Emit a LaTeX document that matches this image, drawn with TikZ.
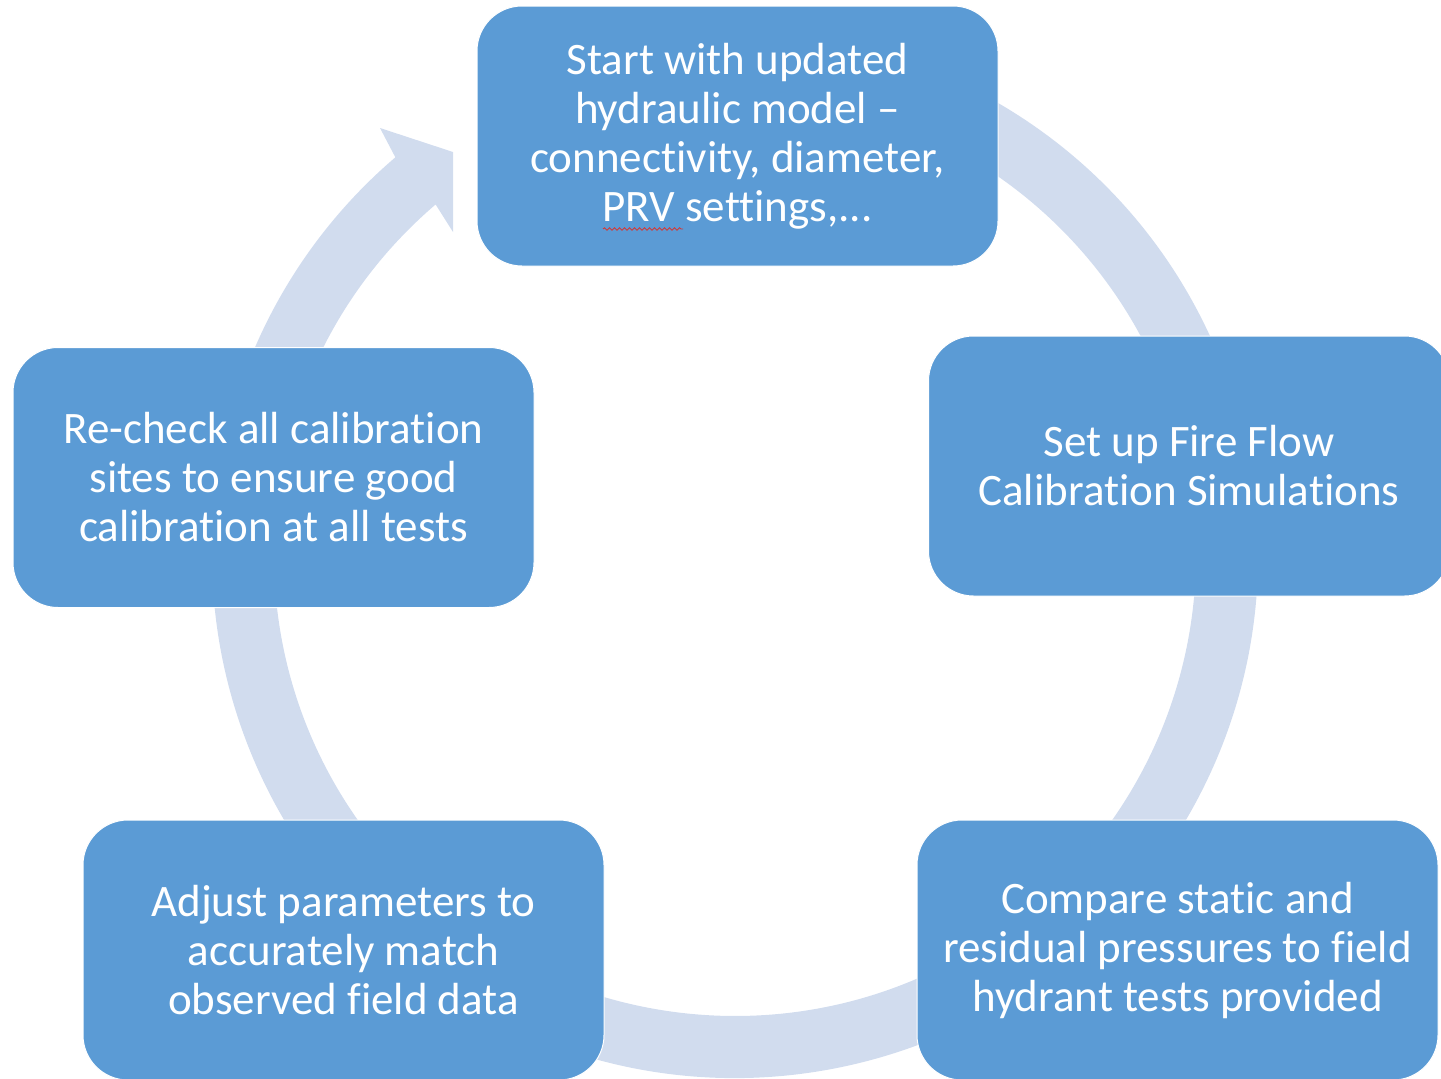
\documentclass[tikz,border=0pt]{standalone}
\usepackage{fontspec}
\setmainfont{Carlito}[Ligatures=NoCommon]
\usetikzlibrary{decorations.pathmorphing}
\definecolor{boxblue}{HTML}{5B9BD5}
\definecolor{ringblue}{HTML}{D1DCEE}
\definecolor{spellred}{HTML}{D03A3A}
\begin{document}
\begin{tikzpicture}[x=1pt,y=-1pt,
  stepbox/.style={rounded corners=45pt, fill=boxblue, draw=white, line width=1pt,
    minimum width=521pt, minimum height=260pt, text=white, align=center,
    font=\fontsize{45}{49}\selectfont, inner sep=0pt}]
\useasboundingbox (0,0) rectangle (1441,1079);
\clip (0,0) rectangle (1441,1079);
% ring arrow
\begin{scope}[shift={(735,555)}, y=1pt]
\fill[ringblue] (130.5:523) -- (-355,427) -- (-282,403) -- (-282,323) -- (130.5:461)
  arc[start angle=130.5, end angle=420, radius=461] -- (420:523)
  arc[start angle=420, end angle=130.5, radius=523] -- cycle;
\end{scope}
% boxes
\node[stepbox] (top) at (737.5,136) {Start with updated\\hydraulic model –\\connectivity, diameter,\\PRV settings,...};
\node[stepbox] (right) at (1189,466) {Set up Fire Flow\\Calibration Simulations};
\node[stepbox] (br) at (1177.5,950) {Compare static and\\residual pressures to field\\hydrant tests provided};
\node[stepbox] (bl) at (343.5,950) {Adjust parameters to\\accurately match\\observed field data};
\node[stepbox] (left) at (273.5,477.5) {Re-check all calibration\\sites to ensure good\\calibration at all tests};
% spell-check underline
\draw[spellred, line width=0.9pt, decorate, decoration={snake, amplitude=1.2pt, segment length=5pt}] (603,229) -- (683,229);
\end{tikzpicture}
\end{document}
